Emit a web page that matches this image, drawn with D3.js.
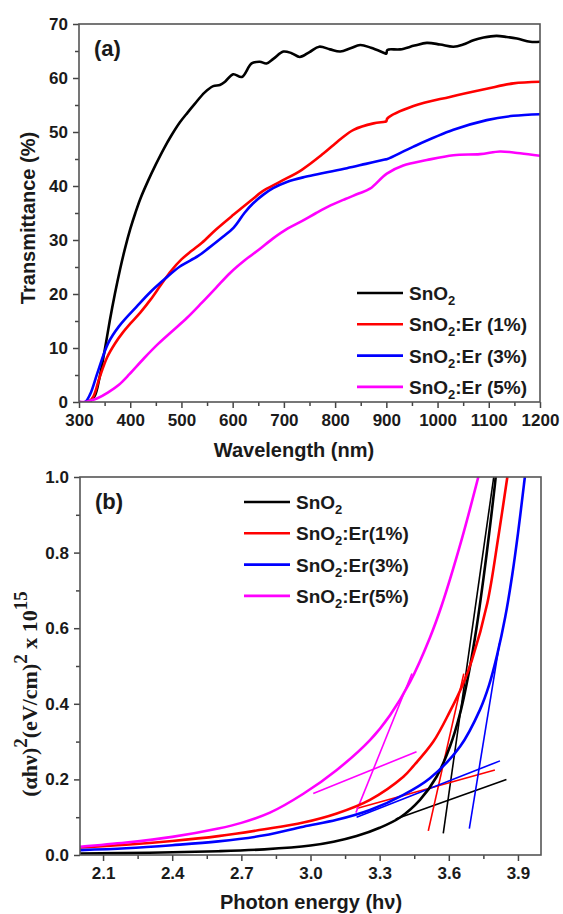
<!DOCTYPE html>
<html>
<head>
<meta charset="utf-8">
<script src="https://cdn.jsdelivr.net/npm/d3@7"></script>
<style>
  body { margin: 0; background: #fff; }
  svg text { font-family: "Liberation Sans", Arial, sans-serif; font-weight: bold; fill: #1a1a1a; }
  .serif { font-family: "Liberation Serif", "Times New Roman", serif; }
</style>
</head>
<body>
<div id="chart"></div>
<script>
// ---- panel (a): transmittance (%) vs wavelength (nm)
const transSnO2 = [[300,0],[318,0],[330,1],[340,4.5],[350,9.5],[360,15],[370,20],[380,24.5],[390,28.5],[400,32],
  [410,35],[420,37.7],[435,41],[450,44],[465,46.8],[480,49.3],[497,51.8],[512,53.6],[526,55.2],[545,57.3],[562,58.5],[575,58.7],[585,59.3],
  [601,60.7],[618,60.2],[637,62.7],[653,63],[666,62.7],[680,63.6],[699,64.9],[715,64.6],[731,63.9],[750,64.8],
  [769,65.8],[790,65.3],[810,64.9],[830,65.5],[849,66.1],[870,65.6],[897,64.6],[900,64.5],[902,65.2],[927,65.3],
  [955,66],[979,66.5],[1005,66.2],[1031,65.8],[1050,66.2],[1070,67],[1090,67.5],[1115,67.8],[1135,67.6],[1155,67.3],
  [1181,66.7],[1200,66.7]];
const transEr1 = [[300,0],[318,0],[328,1],[340,4.5],[355,8.3],[370,10.8],[385,12.8],[400,14.5],[420,16.6],[440,19],
  [460,21.7],[480,24.3],[500,26.4],[520,28],[540,29.5],[567,31.9],[602,34.7],[637,37.4],[658,39],[693,40.8],[735,43],
  [777,46],[797,47.6],[812,48.8],[836,50.4],[875,51.6],[897,51.9],[900,52],[902,52.5],[953,54.8],[1024,56.5],
  [1096,58],[1148,59],[1200,59.3]];
const transEr3 = [[300,0],[312,0],[322,1.5],[336,5.4],[357,10.9],[378,14],[413,17.7],[441,20.5],[469,22.9],[497,25.1],
  [532,27],[553,28.5],[581,30.6],[602,32.3],[623,35],[640,36.8],[660,38.4],[679,39.6],[707,40.8],[742,41.7],[777,42.4],
  [823,43.3],[860,44.1],[897,44.9],[902,45],[953,47.3],[1031,50.4],[1096,52.2],[1148,53],[1200,53.3]];
const transEr5 = [[300,0],[310,0],[320,0.2],[336,0.7],[357,1.8],[378,3.2],[399,5.2],[427,8.1],[455,10.8],[483,13.2],
  [511,15.6],[539,18.3],[567,21.1],[595,23.9],[623,26.2],[651,28.2],[679,30.3],[707,32.1],[735,33.5],[763,35],
  [791,36.4],[820,37.6],[846,38.6],[868,39.5],[901,42.3],[933,43.8],[979,44.8],[1031,45.7],[1083,45.9],[1122,46.4],
  [1148,46.2],[1200,45.6]];

// ---- panel (b): (alpha h nu)^2 x 1e15 vs photon energy
const taucSnO2 = [[2.0,0.004],[2.3,0.006],[2.6,0.01],[2.8,0.015],[3.0,0.025],[3.1,0.035],[3.2,0.05],[3.3,0.072],
  [3.39,0.1],[3.475,0.146],[3.547,0.207],[3.605,0.287],[3.649,0.375],[3.689,0.489],[3.72,0.6],[3.75,0.73],
  [3.775,0.85],[3.80,0.98],[3.81,1.04]];
const taucEr1 = [[2.0,0.02],[2.2,0.027],[2.4,0.037],[2.6,0.05],[2.8,0.068],[2.969,0.086],[3.114,0.110],[3.258,0.146],
  [3.403,0.207],[3.446,0.235],[3.533,0.30],[3.605,0.38],[3.66,0.45],[3.70,0.515],[3.767,0.666],[3.815,0.842],[3.854,1.0]];
const taucEr3 = [[2.0,0.013],[2.2,0.018],[2.4,0.026],[2.6,0.036],[2.8,0.052],[2.969,0.075],[3.114,0.093],[3.258,0.119],
  [3.403,0.159],[3.518,0.203],[3.649,0.287],[3.735,0.384],[3.775,0.45],[3.81,0.53],[3.845,0.63],[3.875,0.74],
  [3.90,0.85],[3.926,0.98],[3.93,1.0]];
const taucEr5 = [[2.0,0.022],[2.2,0.033],[2.4,0.048],[2.6,0.07],[2.7,0.085],[2.824,0.112],[2.969,0.162],[3.114,0.225],
  [3.258,0.304],[3.345,0.37],[3.432,0.458],[3.518,0.575],[3.569,0.66],[3.656,0.835],[3.728,1.0]];

// fitted tangent lines (series index, two end points)
const tangentLines = [
  [0, [[3.37,0.095],[3.85,0.20]]],
  [0, [[3.576,0.057],[3.795,1.0]]],
  [1, [[3.20,0.123],[3.80,0.225]]],
  [1, [[3.511,0.064],[3.665,0.48]]],
  [2, [[3.20,0.10],[3.822,0.249]]],
  [2, [[3.689,0.07],[3.82,0.56]]],
  [3, [[3.012,0.163],[3.46,0.273]]],
  [3, [[3.197,0.112],[3.44,0.48]]]
];

const colors = ['#000000', '#ff0000', '#0000ff', '#ff00ff'];
const legendA = [['SnO', '2', ''], ['SnO', '2', ':Er (1%)'], ['SnO', '2', ':Er (3%)'], ['SnO', '2', ':Er (5%)']];
const legendB = [['SnO', '2', ''], ['SnO', '2', ':Er(1%)'], ['SnO', '2', ':Er(3%)'], ['SnO', '2', ':Er(5%)']];

const wlMajor = d3.range(300, 1201, 100), wlMinor = d3.range(350, 1200, 100);
const tMajor = d3.range(0, 71, 10), tMinor = d3.range(5, 70, 10);
const eMajor = [2.1, 2.4, 2.7, 3.0, 3.3, 3.6, 3.9], eMinor = [2.25, 2.55, 2.85, 3.15, 3.45, 3.75];
const aMajor = [0, 0.2, 0.4, 0.6, 0.8, 1.0], aMinor = [0.1, 0.3, 0.5, 0.7, 0.9];

const svg = d3.select('#chart').append('svg')
  .attr('width', 563)
  .attr('height', 914);

function drawPanel(cfg) {
  const x = d3.scaleLinear().domain(cfg.xDomain).range([cfg.left, cfg.right]);
  const y = d3.scaleLinear().domain(cfg.yDomain).range([cfg.bottom, cfg.top]);
  const g = svg.append('g');

  // clip so steep curves stop at the frame
  g.append('defs').append('clipPath').attr('id', cfg.id + '-clip')
    .append('rect')
    .attr('x', cfg.left).attr('y', cfg.top)
    .attr('width', cfg.right - cfg.left).attr('height', cfg.bottom - cfg.top);

  // axes: major ticks with labels, minor ticks without
  const xAxisG = g.append('g').attr('transform', `translate(0,${cfg.bottom})`);
  xAxisG.append('g').call(d3.axisBottom(x).tickValues(cfg.xMajor).tickSize(6).tickSizeOuter(0)
    .tickPadding(6).tickFormat(cfg.xFormat));
  xAxisG.append('g').call(d3.axisBottom(x).tickValues(cfg.xMinor).tickSize(4).tickSizeOuter(0).tickFormat(''));

  const yAxisG = g.append('g').attr('transform', `translate(${cfg.left},0)`);
  yAxisG.append('g').call(d3.axisLeft(y).tickValues(cfg.yMajor).tickSize(6).tickSizeOuter(0)
    .tickPadding(5).tickFormat(cfg.yFormat));
  yAxisG.append('g').call(d3.axisLeft(y).tickValues(cfg.yMinor).tickSize(4).tickSizeOuter(0).tickFormat(''));

  g.selectAll('.domain').remove();
  g.selectAll('.tick line').attr('stroke', '#444').attr('stroke-width', 1.5);
  g.selectAll('.tick text').style('font-size', '17px').attr('fill', '#1a1a1a');

  const line = d3.line().x(d => x(d[0])).y(d => y(d[1])).curve(d3.curveCatmullRom.alpha(0.5));
  const plot = g.append('g').attr('clip-path', `url(#${cfg.id}-clip)`);

  if (cfg.tangents) {
    plot.selectAll('.tangent').data(cfg.tangents).join('path')
      .attr('class', 'tangent')
      .attr('d', d => d3.line().x(p => x(p[0])).y(p => y(p[1]))(d[1]))
      .attr('fill', 'none')
      .attr('stroke', d => colors[d[0]])
      .attr('stroke-width', 1.6);
  }

  plot.selectAll('.series').data(cfg.series).join('path')
    .attr('class', 'series')
    .attr('d', line)
    .attr('fill', 'none')
    .attr('stroke', (d, i) => colors[i])
    .attr('stroke-width', 2.6);

  // frame
  g.append('rect')
    .attr('x', cfg.left).attr('y', cfg.top)
    .attr('width', cfg.right - cfg.left).attr('height', cfg.bottom - cfg.top)
    .attr('fill', 'none').attr('stroke', '#555').attr('stroke-width', 1.6);

  // panel tag
  g.append('text').attr('x', cfg.left + 15).attr('y', cfg.top + 32)
    .style('font-size', '22px').text(cfg.tag);

  // legend
  const leg = g.selectAll('.legend').data(cfg.legend).join('g')
    .attr('class', 'legend')
    .attr('transform', (d, i) => `translate(${cfg.legendX},${cfg.legendY + i * cfg.legendStep})`);
  leg.append('line')
    .attr('x1', 0).attr('x2', cfg.legendLine)
    .attr('stroke', (d, i) => colors[i]).attr('stroke-width', 2.6);
  const lt = leg.append('text').attr('x', cfg.legendLine + 6).attr('y', 7).style('font-size', '19px');
  lt.append('tspan').text(d => d[0]);
  lt.append('tspan').attr('dy', 5).style('font-size', '13px').text(d => d[1]);
  lt.append('tspan').attr('dy', -5).text(d => d[2]);

  return g;
}

const panelA = drawPanel({
  id: 'a', tag: '(a)',
  left: 79, right: 540, top: 24, bottom: 402,
  xDomain: [300, 1200], yDomain: [0, 70],
  xMajor: wlMajor, xMinor: wlMinor, yMajor: tMajor, yMinor: tMinor,
  xFormat: d3.format('d'), yFormat: d3.format('d'),
  series: [transSnO2, transEr1, transEr3, transEr5],
  legend: legendA, legendX: 357, legendY: 293, legendStep: 31.3, legendLine: 46
});

panelA.append('text')
  .attr('x', 294).attr('y', 457)
  .attr('text-anchor', 'middle')
  .style('font-size', '20px')
  .text('Wavelength (nm)');

panelA.append('text')
  .attr('transform', 'translate(35,218) rotate(-90)')
  .attr('text-anchor', 'middle')
  .style('font-size', '20px')
  .text('Transmittance (%)');

const panelB = drawPanel({
  id: 'b', tag: '(b)',
  left: 80, right: 541, top: 477, bottom: 855,
  xDomain: [2.0, 4.0], yDomain: [0, 1],
  xMajor: eMajor, xMinor: eMinor, yMajor: aMajor, yMinor: aMinor,
  xFormat: d3.format('.1f'), yFormat: d3.format('.1f'),
  series: [taucSnO2, taucEr1, taucEr3, taucEr5],
  tangents: tangentLines,
  legend: legendB, legendX: 244, legendY: 502, legendStep: 31.3, legendLine: 46
});

panelB.append('text')
  .attr('x', 311).attr('y', 909)
  .attr('text-anchor', 'middle')
  .style('font-size', '20px')
  .text('Photon energy (h\u03bd)');

// y title in serif with superscripts
const yt = panelB.append('text')
  .attr('class', 'serif')
  .attr('transform', 'translate(37,694) rotate(-90)')
  .attr('text-anchor', 'middle')
  .style('font-size', '22px');
yt.append('tspan').text('(\u03b1h\u03bd)');
yt.append('tspan').attr('dy', -10).style('font-size', '19px').text('2');
yt.append('tspan').attr('dy', 10).text('(eV/cm)');
yt.append('tspan').attr('dy', -10).style('font-size', '19px').text('2');
yt.append('tspan').attr('dy', 10).text(' x 10');
yt.append('tspan').attr('dy', -10).style('font-size', '19px').text('15');
</script>
</body>
</html>
